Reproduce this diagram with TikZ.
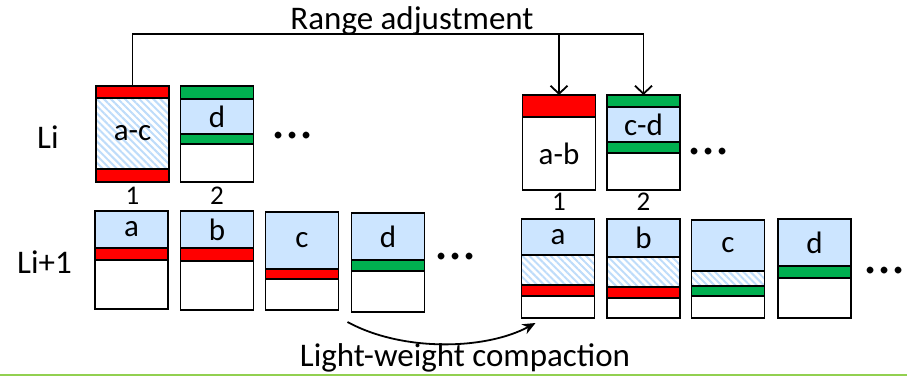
\documentclass[tikz,border=0pt]{standalone}
\usepackage{fontspec}
\setmainfont{Carlito}
\usepackage{tikz}
\usetikzlibrary{arrows.meta, positioning, patterns.meta}
\definecolor{sstblue}{RGB}{204,229,255}
\definecolor{hatchblue}{RGB}{190,220,250}
\definecolor{keyred}{RGB}{255,0,0}
\definecolor{keygreen}{RGB}{0,176,80}
\definecolor{rulegreen}{RGB}{146,208,80}

\begin{document}
\begin{tikzpicture}[
    x=1pt, y=1pt,
    seg/.style={rectangle, draw=black, line width=1.5pt, minimum width=73pt,
                inner sep=0pt, outer sep=0pt, font=\fontsize{31}{31}\selectfont},
    blueseg/.style={seg, fill=sstblue},
    hatchseg/.style={seg, pattern={Lines[angle=-45, distance=5pt, line width=2pt]},
                     pattern color=hatchblue},
    redseg/.style={seg, fill=keyred},
    greenseg/.style={seg, fill=keygreen},
    whiteseg/.style={seg, fill=white},
    lvl/.style={font=\fontsize{33}{33}\selectfont, anchor=base west, inner sep=0pt},
    num/.style={font=\fontsize{27}{27}\selectfont, inner sep=0pt},
    dots/.style={font=\fontsize{56}{56}\selectfont, anchor=west, inner sep=0pt},
    adjline/.style={line width=1.8pt},
    adjarrow/.style={adjline, -{Straight Barb[length=8pt, width=17pt]}},
    lwarrow/.style={line width=1.8pt, -{Stealth[length=13pt, width=11pt]}},
]
    \useasboundingbox (0,0) rectangle (907,-377);

    % level Li, before
    \node[redseg, minimum height=12pt, anchor=north] (preACTop) at (132.5,-86) {};
    \node[hatchseg, minimum height=71pt, below=0pt of preACTop] (preAC) {a-c};
    \node[redseg, minimum height=13pt, below=0pt of preAC] (preACBot) {};

    \node[greenseg, minimum height=13pt, anchor=north] (preDTop) at (217,-86) {};
    \node[blueseg, minimum height=35pt, below=0pt of preDTop] (preD) {d};
    \node[greenseg, minimum height=10pt, below=0pt of preD] (preDBot) {};
    \node[whiteseg, minimum height=38pt, below=0pt of preDBot] (preDFree) {};

    % level Li, after
    \node[redseg, minimum height=22pt, anchor=north] (postABTop) at (559,-95) {};
    \node[whiteseg, minimum height=73pt, below=0pt of postABTop] (postAB) {a-b};

    \node[greenseg, minimum height=12pt, anchor=north] (postCDTop) at (643.5,-95) {};
    \node[blueseg, minimum height=35pt, below=0pt of postCDTop] (postCD) {c-d};
    \node[greenseg, minimum height=11pt, below=0pt of postCD] (postCDBot) {};
    \node[whiteseg, minimum height=37pt, below=0pt of postCDBot] (postCDFree) {};

    \node[num, below=5pt of preACBot] (preOne) {1};
    \node[num, below=5pt of preDFree] (preTwo) {2};
    \node[num, below=3pt of postAB] (postOne) {1};
    \node[num, below=3pt of postCDFree] (postTwo) {2};

    % level Li+1, before
    \node[blueseg, minimum height=37pt, anchor=north] (preA) at (131.5,-211) {a};
    \node[redseg, minimum height=12pt, below=0pt of preA] (preAKey) {};
    \node[whiteseg, minimum height=49pt, below=0pt of preAKey] (preAFree) {};

    \node[blueseg, minimum height=37pt, anchor=north] (preB) at (217,-211) {b};
    \node[redseg, minimum height=13pt, below=0pt of preB] (preBKey) {};
    \node[whiteseg, minimum height=49pt, below=0pt of preBKey] (preBFree) {};

    \node[blueseg, minimum height=57pt, anchor=north] (preC) at (302,-212) {c};
    \node[redseg, minimum height=10pt, below=0pt of preC] (preCKey) {};
    \node[whiteseg, minimum height=31pt, below=0pt of preCKey] (preCFree) {};

    \node[blueseg, minimum height=47pt, anchor=north] (preLD) at (388,-213) {d};
    \node[greenseg, minimum height=11pt, below=0pt of preLD] (preLDKey) {};
    \node[whiteseg, minimum height=41pt, below=0pt of preLDKey] (preLDFree) {};

    % level Li+1, after
    \node[blueseg, minimum height=36pt, anchor=north] (postA) at (558,-219) {a};
    \node[hatchseg, minimum height=30pt, below=0pt of postA] (postAGap) {};
    \node[redseg, minimum height=11pt, below=0pt of postAGap] (postAKey) {};
    \node[whiteseg, minimum height=22pt, below=0pt of postAKey] (postAFree) {};

    \node[blueseg, minimum height=38pt, anchor=north] (postB) at (643.5,-219) {b};
    \node[hatchseg, minimum height=30pt, below=0pt of postB] (postBGap) {};
    \node[redseg, minimum height=11pt, below=0pt of postBGap] (postBKey) {};
    \node[whiteseg, minimum height=20pt, below=0pt of postBKey] (postBFree) {};

    \node[blueseg, minimum height=51pt, anchor=north] (postC) at (728,-220) {c};
    \node[hatchseg, minimum height=15pt, below=0pt of postC] (postCGap) {};
    \node[greenseg, minimum height=10pt, below=0pt of postCGap] (postCKey) {};
    \node[whiteseg, minimum height=22pt, below=0pt of postCKey] (postCFree) {};

    \node[blueseg, minimum height=47pt, anchor=north] (postLD) at (814.5,-219) {d};
    \node[greenseg, minimum height=12pt, below=0pt of postLD] (postLDKey) {};
    \node[whiteseg, minimum height=40pt, below=0pt of postLDKey] (postLDFree) {};

    % level names and dots
    \node[lvl] (li) at (37,-148) {Li};
    \node[lvl] (linext) at (17,-273) {Li+1};
    \node[dots] (preUpDots) at (271,-136) {...};
    \node[dots] (preLowDots) at (434,-257) {...};
    \node[dots] (postUpDots) at (687,-152) {...};
    \node[dots] (postLowDots) at (863,-271) {...};

    % range adjustment
    \coordinate (rail) at (0,-34);
    \node[font=\fontsize{33}{33}\selectfont, anchor=base, inner sep=0pt] (adjlabel)
          at (412,-30) {Range adjustment};
    \draw[adjarrow] (preACTop.north) |- (rail -| postCDTop.north) -- (postCDTop.north);
    \draw[adjarrow] (rail -| postABTop.north) -- (postABTop.north);

    % light-weight compaction
    \draw[lwarrow] ([xshift=-4pt, yshift=-10pt]preLDFree.south west)
          .. controls +(55,-30) and +(-50,-27) .. ([xshift=14pt, yshift=-5pt]postAFree.south west);
    \node[font=\fontsize{33}{33}\selectfont, anchor=base, inner sep=0pt] (lwlabel)
          at (465,-366) {Light-weight compaction};

    \draw[rulegreen, line width=1.5pt] (0,-375) -- (907,-375);
\end{tikzpicture}
\end{document}
